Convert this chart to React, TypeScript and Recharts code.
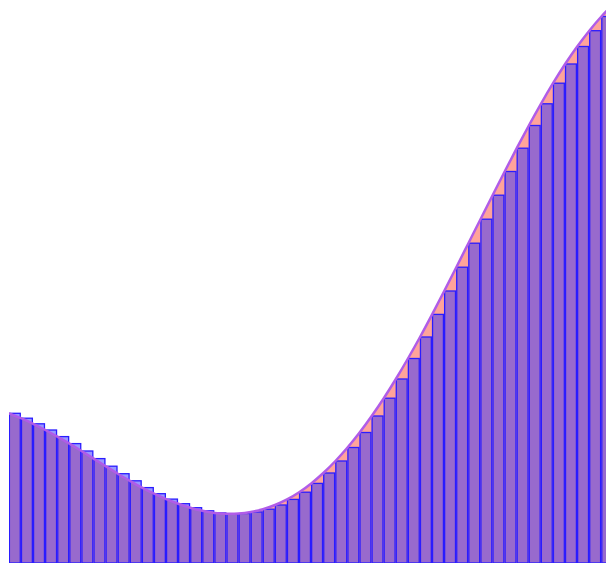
import { Area, Bar, ComposedChart, Line, XAxis, YAxis } from "recharts";

// left endpoint of each strip, 0..50
const xs = [
  0, 1, 2, 3, 4, 5, 6, 7, 8, 9, 10, 11, 12, 13, 14, 15, 16, 17, 18, 19, 20,
  21, 22, 23, 24, 25, 26, 27, 28, 29, 30, 31, 32, 33, 34, 35, 36, 37, 38, 39,
  40, 41, 42, 43, 44, 45, 46, 47, 48, 49, 50,
];

// curve height at each x
const curveValues = [
  149.7, 144.8, 139.2, 133, 126.4, 119.4, 112, 104.4, 96.8, 89.3, 82.2, 75.4,
  69.3, 63.9, 59.3, 55.3, 52.2, 50.1, 49.2, 49.5, 51, 53.8, 58, 63.6, 70.8,
  79.6, 90, 102, 115.5, 130.5, 147, 164.8, 184, 204.5, 226, 248.6, 272, 295.8,
  319.8, 343.8, 367.8, 391.5, 414.8, 437.5, 459.2, 479.8, 499, 516.5, 532.3,
  546.5, 559,
];

const stripCount = 50;

const data = xs.map((x, i) => ({
  x,
  curve: curveValues[i],
  strip: i < stripCount ? curveValues[i] : null,
}));

const CHART_W = 614;
const CHART_H = 568;
const MARGIN = { top: 0, right: 0.5, bottom: 5, left: 9 };
const STRIP_W = (CHART_W - MARGIN.left - MARGIN.right) / stripCount;

// bar is centred on x by default; shift it so it starts at x
function StripShape(props: any) {
  const { x, y, width, height } = props;
  if (height == null || height <= 0) return null;
  return (
    <rect
      x={x + width / 2}
      y={y}
      width={width}
      height={height}
      fill="#3232ff"
      fillOpacity={0.5}
      stroke="#2a1cff"
      strokeWidth={1.3}
    />
  );
}

export default function App() {
  return (
    <div
      style={{
        width: 606,
        height: 568,
        overflow: "hidden",
        background: "#fff",
      }}
    >
      <style>{`body{margin:0;overflow:hidden}`}</style>
      <ComposedChart
        width={CHART_W}
        height={CHART_H}
        data={data}
        margin={MARGIN}
        barCategoryGap={0}
      >
        <XAxis
          dataKey="x"
          type="number"
          domain={[0, 50]}
          hide
          allowDataOverflow
        />
        <YAxis type="number" domain={[0, 563]} hide allowDataOverflow />
        <Area
          dataKey="curve"
          type="natural"
          fill="#ffa39a"
          fillOpacity={1}
          stroke="none"
          isAnimationActive={false}
        />
        <Bar
          dataKey="strip"
          barSize={STRIP_W}
          shape={StripShape}
          isAnimationActive={false}
        />
        <Line
          dataKey="curve"
          type="natural"
          stroke="#b05ce8"
          strokeWidth={2.5}
          dot={false}
          isAnimationActive={false}
        />
      </ComposedChart>
    </div>
  );
}
